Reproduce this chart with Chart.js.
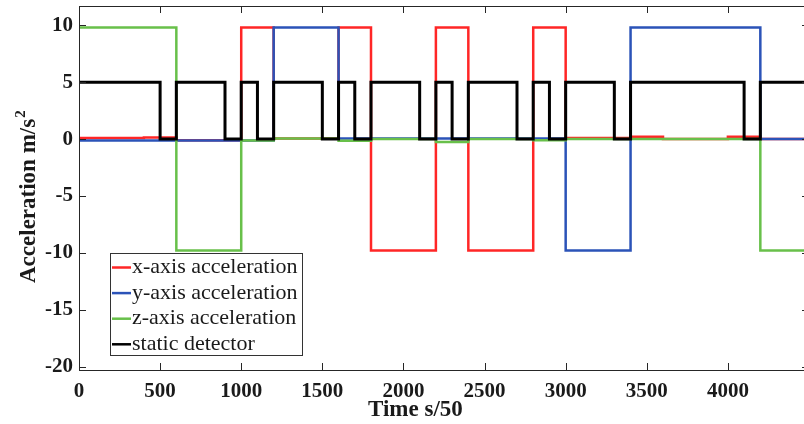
<!DOCTYPE html>
<html>
<head>
<meta charset="utf-8">
<script src="https://cdn.jsdelivr.net/npm/chart.js@4"></script>
<style>
  html, body { margin: 0; padding: 0; background: #fff; overflow: hidden; }
  #wrap { width: 812px; height: 424px; }
</style>
</head>
<body>
<div id="wrap"><canvas id="chart" width="812" height="424"></canvas></div>
<script>
// step series: value holds from each time until the next one
const X_END = 4500;

const xTimes = [0, 400, 600, 1000, 1200, 1600, 1800, 2200, 2400, 2800, 3000, 3400, 3600, 4000, 4200, X_END];
const xLevels = [0.1, 0.15, -0.1, 9.8, 0.05, 9.8, -9.8, 9.8, -9.8, 9.8, 0.1, 0.2, 0, 0.2, 0, 0];

const yTimes = [0, 1200, 1600, 3000, 3400, 4200, X_END];
const yLevels = [-0.12, 9.8, 0.05, -9.8, 9.8, 0, 0];

const zTimes = [0, 600, 1000, 1200, 1600, 1800, 2200, 2400, 2800, 3000, 3400, 4200, X_END];
const zLevels = [9.8, -9.8, -0.12, 0.05, -0.15, 0, -0.25, 0, -0.1, 0, 0, -9.8, -9.8];

const staticTimes = [0, 500, 600, 900, 1000, 1100, 1200, 1500, 1600, 1700, 1800, 2100, 2200,
  2300, 2400, 2700, 2800, 2900, 3000, 3300, 3400, 4100, 4200, X_END];
const staticLevels = [5, 0, 5, 0, 5, 0, 5, 0, 5, 0, 5, 0, 5, 0, 5, 0, 5, 0, 5, 0, 5, 0, 5, 5];

const xTickValues = [0, 500, 1000, 1500, 2000, 2500, 3000, 3500, 4000];
const yTickValues = [-20, -15, -10, -5, 0, 5, 10];

const AXIS_COLOR = "#262626";
const SERIF = "'Liberation Serif', 'Times New Roman', serif";

const toPoints = (times, levels) => times.map((t, i) => ({ x: t, y: levels[i] }));

const makeSeries = (label, times, levels, color, order, width) => ({
  label,
  data: toPoints(times, levels),
  borderColor: color,
  backgroundColor: color,
  borderWidth: width,
  stepped: true,
  pointRadius: 0,
  fill: false,
  order,
});

// box, inward ticks, axis titles and legend, MATLAB style
const boxPlugin = {
  id: "box",
  afterDraw(chart) {
    const { ctx, chartArea: a, scales } = chart;
    const tick = 7;
    ctx.save();
    ctx.strokeStyle = AXIS_COLOR;
    ctx.lineWidth = 1;
    ctx.strokeRect(a.left + 0.5, a.top + 0.5, a.right - a.left, a.bottom - a.top);
    ctx.beginPath();
    xTickValues.forEach((v) => {
      const px = Math.round(scales.x.getPixelForValue(v)) + 0.5;
      ctx.moveTo(px, a.bottom); ctx.lineTo(px, a.bottom - tick);
      ctx.moveTo(px, a.top); ctx.lineTo(px, a.top + tick);
    });
    yTickValues.forEach((v) => {
      const py = Math.round(scales.y.getPixelForValue(v)) + 0.5;
      ctx.moveTo(a.left, py); ctx.lineTo(a.left + tick, py);
      ctx.moveTo(a.right, py); ctx.lineTo(a.right - tick, py);
    });
    ctx.stroke();

    // axis titles
    ctx.fillStyle = "#1a1a1a";
    ctx.font = "bold 23px " + SERIF;
    ctx.textBaseline = "alphabetic";
    ctx.textAlign = "left";
    ctx.fillText("Time s/50", 368, 416);

    ctx.save();
    ctx.translate(35, 283);
    ctx.rotate(-Math.PI / 2);
    ctx.fillText("Acceleration m/s", 0, 0);
    const w = ctx.measureText("Acceleration m/s").width;
    ctx.font = "bold 15px " + SERIF;
    ctx.fillText("2", w + 1, -10);
    ctx.restore();

    // legend
    const lx = 110, ly = 253, lw = 192, lh = 102;
    ctx.fillStyle = "#fff";
    ctx.fillRect(lx, ly, lw, lh);
    ctx.strokeStyle = "#333";
    ctx.strokeRect(lx + 0.5, ly + 0.5, lw, lh);
    ctx.font = "22px " + SERIF;
    chart.data.datasets.forEach((ds, i) => {
      const y = 267.5 + i * 25.6;
      ctx.strokeStyle = ds.borderColor;
      ctx.lineWidth = 2.5;
      ctx.beginPath();
      ctx.moveTo(112, y); ctx.lineTo(131, y);
      ctx.stroke();
      ctx.fillStyle = "#1a1a1a";
      ctx.fillText(ds.label, 132, y + 5.5);
    });
    ctx.restore();
  },
};

const noEdgePadding = (scale) => {
  scale.paddingTop = 0;
  scale.paddingBottom = 0;
  scale.paddingLeft = 0;
  scale.paddingRight = 0;
};

new Chart(document.getElementById("chart"), {
  type: "line",
  data: {
    datasets: [
      makeSeries("x-axis acceleration", xTimes, xLevels, "#ff2626", 4, 2.5),
      makeSeries("y-axis acceleration", yTimes, yLevels, "#2b53b8", 3, 2.5),
      makeSeries("z-axis acceleration", zTimes, zLevels, "#68c04a", 2, 2.5),
      makeSeries("static detector", staticTimes, staticLevels, "#000000", 1, 3),
    ],
  },
  options: {
    responsive: false,
    animation: false,
    layout: { padding: { top: 6, right: 3, left: 0, bottom: 0 } },
    plugins: {
      legend: { display: false },
      tooltip: { enabled: false },
    },
    scales: {
      x: {
        type: "linear",
        min: 0,
        max: X_END,
        grid: { display: false, drawTicks: false },
        border: { display: false },
        afterBuildTicks: (scale) => { scale.ticks = xTickValues.map((v) => ({ value: v })); },
        afterFit: (scale) => { scale.height = 54; noEdgePadding(scale); },
        ticks: {
          padding: 9,
          maxRotation: 0,
          color: "#1a1a1a",
          callback: (v) => String(v),
          font: { family: SERIF, size: 21, weight: "bold" },
        },
      },
      y: {
        type: "linear",
        min: -20.3,
        max: 11.7,
        grid: { display: false, drawTicks: false },
        border: { display: false },
        afterBuildTicks: (scale) => { scale.ticks = yTickValues.map((v) => ({ value: v })); },
        afterFit: (scale) => { scale.width = 79; noEdgePadding(scale); },
        ticks: {
          padding: 6,
          color: "#1a1a1a",
          callback: (v) => String(v),
          font: { family: SERIF, size: 21, weight: "bold" },
        },
      },
    },
  },
  plugins: [boxPlugin],
});
</script>
</body>
</html>
